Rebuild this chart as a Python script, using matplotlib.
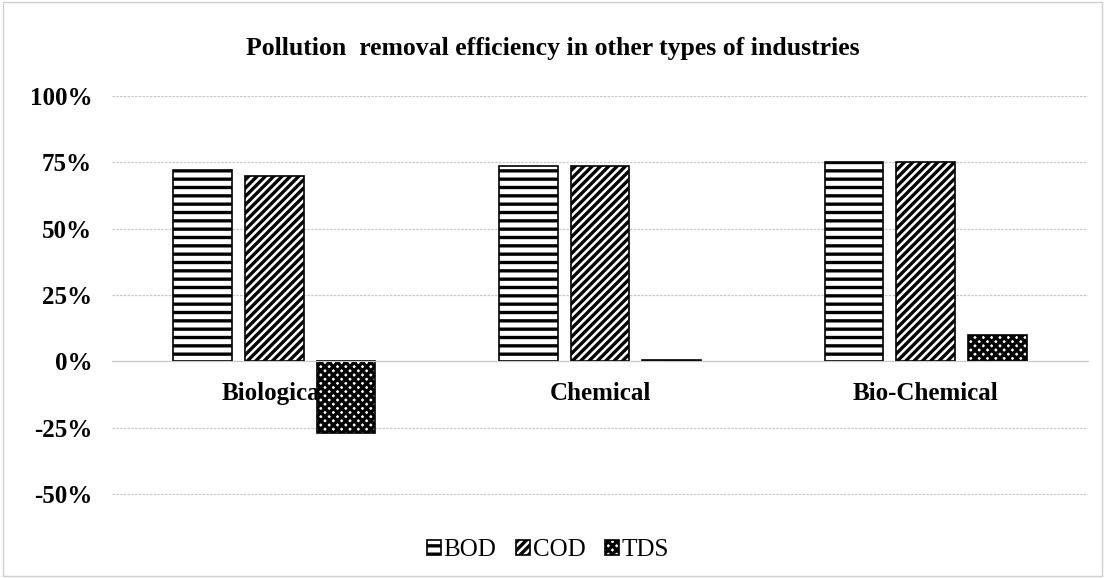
import numpy as np
import matplotlib
matplotlib.use('Agg')
import matplotlib.pyplot as plt
from matplotlib.ticker import FuncFormatter

plt.rcParams['font.family'] = ['Liberation Serif', 'DejaVu Serif']
plt.rcParams['hatch.linewidth'] = 2.4

categories = ['Biological', 'Chemical', 'Bio-Chemical']
series = ['BOD', 'COD', 'TDS']
bod = [0.72, 0.735, 0.75]
cod = [0.70, 0.735, 0.75]
tds = [-0.27, 0.005, 0.10]

hatches = ['--', '////', 'xxxx']
values = [bod, cod, tds]

fig = plt.figure(figsize=(11.05, 5.78), dpi=100)
ax = fig.add_axes([0.101, 0.143, 0.884, 0.691])

x = np.arange(len(categories))
w = 0.18
step = 0.22
for i, (name, vals, h) in enumerate(zip(series, values, hatches)):
    ax.bar(x + (i - 1) * step, vals, w, label=name, color='white',
           edgecolor='black', linewidth=1.2, hatch=h)

ax.set_xlim(-0.5, 2.5)
ax.set_ylim(-0.505, 1.0)
ax.set_yticks(np.arange(-0.5, 1.01, 0.25))
ax.yaxis.set_major_formatter(FuncFormatter(lambda v, p: f'{v*100:.0f}%'))
ax.grid(axis='y', color='#c8c8c8', linestyle=(0, (2, 1)), linewidth=0.9)
ax.set_axisbelow(True)
for s in ['top', 'right', 'left']:
    ax.spines[s].set_visible(False)
ax.spines['bottom'].set_position(('data', 0))
ax.spines['bottom'].set_color('#c8c8c8')
ax.tick_params(axis='both', length=0)
ax.tick_params(axis='y', labelsize=18, pad=14)
for lab in ax.get_yticklabels():
    lab.set_fontweight('bold')
ax.set_xticks(x)
ax.set_xticklabels(categories, fontsize=18, fontweight='bold')
ax.tick_params(axis='x', pad=15)

fig.suptitle('Pollution  removal efficiency in other types of industries',
             fontsize=18.5, fontweight='bold', y=0.936)

fig.legend(loc='center', bbox_to_anchor=(0.496, 0.048), ncol=3, frameon=False,
           fontsize=18, handlelength=0.55, handleheight=0.55, handletextpad=0.1,
           columnspacing=0.8)

fig.patches.append(plt.Rectangle((0.003, 0.003), 0.994, 0.994, transform=fig.transFigure,
                                 fill=False, edgecolor='#d0d0d0', linewidth=1))

fig.savefig('out.png', dpi=100)
